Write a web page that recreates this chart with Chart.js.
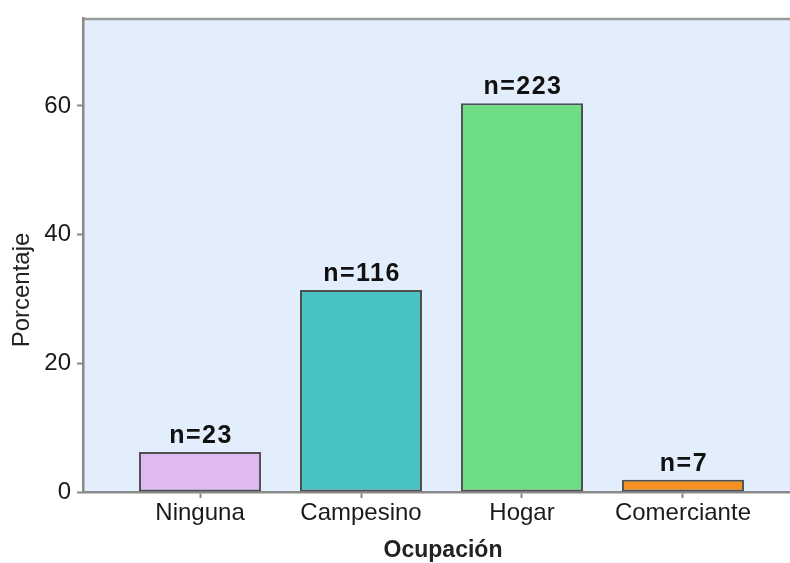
<!DOCTYPE html>
<html>
<head>
<meta charset="utf-8">
<script src="https://cdn.jsdelivr.net/npm/chart.js@4/dist/chart.umd.min.js"></script>
<style>
html,body{margin:0;padding:0;background:#fff;}
#wrap{width:790px;height:563px;position:relative;}
</style>
</head>
<body>
<div id="wrap"><canvas id="c" width="790" height="563"></canvas></div>
<script>
const categories = ["Ninguna", "Campesino", "Hogar", "Comerciante"];
const percentages = [6.2, 31.4, 60.4, 1.9];
const counts = [23, 116, 223, 7];
const yTicks = [0, 20, 40, 60];
const barColors = ["#dfb9f1", "#48c2c5", "#6fdd83", "#f5911e"];
const yTitle = "Porcentaje";
const xTitle = "Ocupación";

const FONT = "'Liberation Sans', Arial, sans-serif";

const framePlugin = {
  id: 'frame',
  beforeDraw(chart) {
    const {ctx, chartArea: a} = chart;
    ctx.save();
    ctx.fillStyle = '#e2eefb';
    ctx.fillRect(a.left, a.top, a.right - a.left, a.bottom - a.top);
    ctx.strokeStyle = '#9a9a9a';
    ctx.lineWidth = 2.5;
    ctx.beginPath();
    ctx.moveTo(a.left, a.top + 1);
    ctx.lineTo(a.right, a.top + 1);
    ctx.stroke();
    ctx.restore();
  },
  afterDraw(chart) {
    const {ctx} = chart;
    const ds = chart.getDatasetMeta(0);
    ctx.save();
    ctx.fillStyle = '#111';
    ctx.font = "bold 25px " + FONT;
    ctx.textAlign = 'center';
    ctx.textBaseline = 'alphabetic';
    try { ctx.letterSpacing = '1.5px'; } catch (e) {}
    ds.data.forEach((bar, i) => {
      ctx.fillText('n=' + counts[i], bar.x + 1, bar.y - 9);
    });
    try { ctx.letterSpacing = '0px'; } catch (e) {}
    // axis titles
    ctx.fillStyle = '#222';
    ctx.font = "24px " + FONT;
    ctx.save();
    ctx.translate(22, 290);
    ctx.rotate(-Math.PI / 2);
    ctx.textBaseline = 'middle';
    ctx.fillText(yTitle, 0, 0);
    ctx.restore();
    ctx.font = "bold 23px " + FONT;
    ctx.textBaseline = 'middle';
    ctx.fillText(xTitle, 443, 551);
    ctx.restore();
  }
};

new Chart(document.getElementById('c'), {
  type: 'bar',
  data: {
    datasets: [{
      data: percentages.map((v, i) => ({x: i, y: v})),
      backgroundColor: barColors,
      borderColor: '#4f4f4f',
      borderWidth: 2,
      borderSkipped: false,
      barPercentage: 0.758,
      categoryPercentage: 1
    }]
  },
  options: {
    responsive: false,
    animation: false,
    devicePixelRatio: 1,
    layout: {padding: {top: 12, right: 0, left: 0, bottom: 0}},
    plugins: {legend: {display: false}, tooltip: {enabled: false}, title: {display: false}},
    scales: {
      x: {
        type: 'linear',
        offset: false,
        min: -0.727,
        max: 3.665,
        afterBuildTicks(scale) { scale.ticks = categories.map((c, i) => ({value: i})); },
        afterFit(scale) { scale.height = 71; },
        ticks: {
          includeBounds: false,
          callback: (v) => categories[v],
          color: '#1a1a1a',
          font: {family: FONT, size: 24, lineHeight: 1},
          padding: 3,
          maxRotation: 0,
          autoSkip: false
        },
        grid: {offset: false, drawOnChartArea: false, tickLength: 6, tickColor: '#888', tickWidth: 2},
        border: {display: true, color: '#8a8a8a', width: 2.5}
      },
      y: {
        min: 0,
        max: 73.66,
        afterBuildTicks(scale) { scale.ticks = yTicks.map(v => ({value: v})); },
        afterFit(scale) { scale.width = 83; },
        ticks: {
          includeBounds: false,
          color: '#1a1a1a',
          font: {family: FONT, size: 24, lineHeight: 1},
          padding: 6
        },
        grid: {drawOnChartArea: false, tickLength: 6, tickColor: '#888', tickWidth: 2},
        border: {display: true, color: '#8a8a8a', width: 2.5}
      }
    }
  },
  plugins: [framePlugin]
});
</script>
</body>
</html>
